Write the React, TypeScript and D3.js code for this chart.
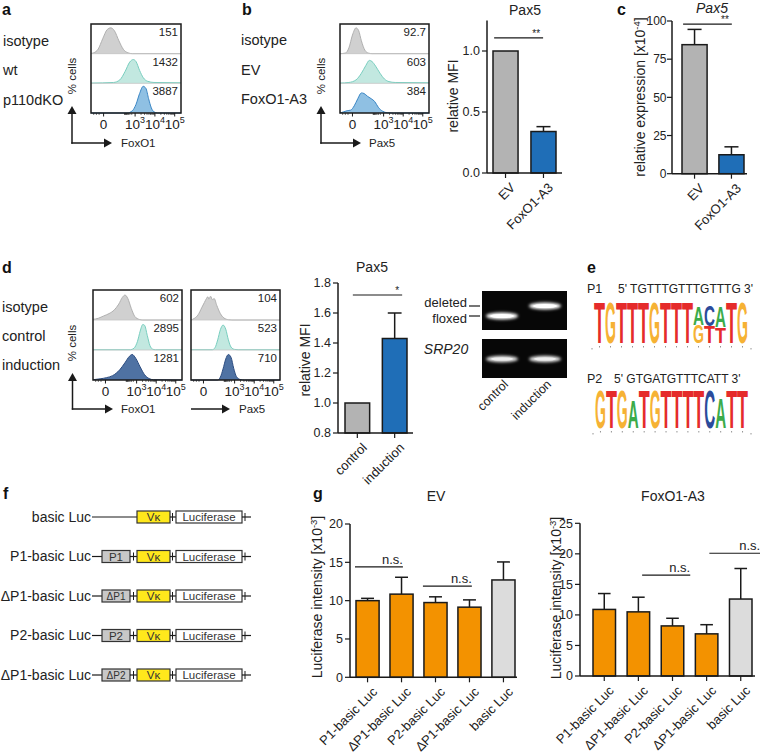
import React from "react";
import * as d3 from "d3";

const FONT = "'Liberation Sans', Arial, Helvetica, sans-serif";

// ---------------- data ----------------
const aRowLabels = ["isotype", "wt", "p110dKO"];
const aMFI = ["151", "1432", "3887"];
const bRowLabels = ["isotype", "EV", "FoxO1-A3"];
const bMFI = ["92.7", "603", "384"];
const dRowLabels = ["isotype", "control", "induction"];
const dFoxO1MFI = ["602", "2895", "1281"];
const dPax5MFI = ["104", "523", "710"];

const flowTickBase = ["0", "10", "10", "10"];
const flowTickExp = ["", "3", "4", "5"];
const flowTickPos = [0.14, 0.49, 0.71, 0.93];

type Curve = [number, number][];
// histogram outlines: [position in box (0-1), height in row (0-1)]
const aIsotypeCurve: Curve = [[0, 0.01], [0.03, 0.03], [0.08, 0.16], [0.13, 0.52], [0.18, 0.84], [0.22, 0.9], [0.26, 0.8], [0.31, 0.45], [0.36, 0.15], [0.41, 0.03], [0.46, 0], [1, 0]];
const aWtCurve: Curve = [[0, 0.01], [0.25, 0.03], [0.32, 0.12], [0.38, 0.42], [0.43, 0.74], [0.47, 0.83], [0.5, 0.76], [0.54, 0.45], [0.58, 0.2], [0.63, 0.07], [0.7, 0.03], [1, 0.02]];
const aKOCurve: Curve = [[0, 0], [0.4, 0], [0.46, 0.08], [0.5, 0.3], [0.54, 0.68], [0.58, 0.93], [0.61, 0.86], [0.64, 0.5], [0.67, 0.18], [0.7, 0.04], [0.74, 0], [1, 0]];
const bIsotypeCurve: Curve = [[0, 0], [0.06, 0.02], [0.1, 0.2], [0.14, 0.65], [0.18, 0.9], [0.21, 0.8], [0.24, 0.45], [0.28, 0.12], [0.32, 0.02], [0.36, 0], [1, 0]];
const bEVCurve: Curve = [[0, 0.01], [0.1, 0.03], [0.18, 0.12], [0.24, 0.35], [0.29, 0.62], [0.33, 0.8], [0.36, 0.76], [0.4, 0.6], [0.45, 0.35], [0.5, 0.15], [0.55, 0.06], [0.62, 0.03], [1, 0.02]];
const bFoxCurve: Curve = [[0, 0], [0.04, 0.04], [0.08, 0.08], [0.12, 0.1], [0.16, 0.25], [0.2, 0.5], [0.24, 0.7], [0.27, 0.68], [0.31, 0.58], [0.35, 0.5], [0.39, 0.4], [0.43, 0.2], [0.48, 0.06], [0.53, 0.01], [0.6, 0], [1, 0]];
const dFIsotypeCurve: Curve = [[0, 0.02], [0.06, 0.06], [0.12, 0.14], [0.18, 0.22], [0.24, 0.35], [0.29, 0.55], [0.33, 0.78], [0.36, 0.86], [0.39, 0.75], [0.43, 0.4], [0.47, 0.12], [0.52, 0.02], [0.56, 0], [1, 0]];
const dFControlCurve: Curve = [[0, 0.01], [0.42, 0.01], [0.46, 0.06], [0.5, 0.3], [0.53, 0.65], [0.56, 0.88], [0.58, 0.85], [0.61, 0.5], [0.64, 0.15], [0.67, 0.03], [0.7, 0.01], [1, 0.01]];
const dFInductionCurve: Curve = [[0, 0.01], [0.08, 0.04], [0.15, 0.08], [0.22, 0.15], [0.3, 0.35], [0.36, 0.6], [0.41, 0.82], [0.44, 0.88], [0.48, 0.75], [0.53, 0.45], [0.58, 0.18], [0.63, 0.05], [0.68, 0.01], [1, 0]];
const dPIsotypeCurve: Curve = [[0, 0], [0.04, 0.06], [0.08, 0.18], [0.12, 0.42], [0.15, 0.6], [0.17, 0.72], [0.19, 0.8], [0.2, 0.72], [0.22, 0.82], [0.24, 0.7], [0.26, 0.74], [0.29, 0.5], [0.33, 0.22], [0.37, 0.07], [0.42, 0.01], [0.46, 0], [1, 0]];
const dPControlCurve: Curve = [[0, 0.01], [0.24, 0.01], [0.27, 0.08], [0.3, 0.35], [0.33, 0.7], [0.36, 0.86], [0.39, 0.72], [0.42, 0.35], [0.45, 0.1], [0.49, 0.02], [0.53, 0.01], [1, 0.01]];
const dPInductionCurve: Curve = [[0, 0], [0.3, 0], [0.33, 0.1], [0.36, 0.38], [0.39, 0.72], [0.42, 0.88], [0.45, 0.78], [0.48, 0.4], [0.51, 0.12], [0.55, 0.02], [0.6, 0], [1, 0]];

const bBarCats = ["EV", "FoxO1-A3"];
const bBarVals = [1.0, 0.34];
const bBarErr = [0, 0.04];
const bTicks = [0, 0.5, 1.0];

const cBarCats = ["EV", "FoxO1-A3"];
const cBarVals = [84.5, 12.4];
const cBarErr = [10, 5.2];
const cTicks = [0, 25, 50, 75, 100];

const dBarCats = ["control", "induction"];
const dBarVals = [1.0, 1.43];
const dBarErr = [0, 0.17];
const dTicks = [0.8, 1.0, 1.2, 1.4, 1.6, 1.8];

const gelLanes = ["control", "induction"];
const gelBandTypes = ["floxed", "deleted"];
const gelBandLevels = ["deleted", "floxed"];

const motifP1Seq = "5' TGTTTGTTTGTTTG 3'";
const motifP2Seq = "5' GTGATGTTTCATT 3'";
type LogoCol = [string, number][];
const logoP1: LogoCol[] = [
  [["T", 1]], [["G", 1]], [["T", 1]], [["T", 1]], [["T", 1]], [["G", 1]], [["T", 1]], [["T", 1]], [["T", 1]],
  [["A", 0.46], ["G", 0.44]], [["C", 0.5], ["T", 0.42]], [["A", 0.52], ["T", 0.4]], [["T", 1]], [["G", 1]],
];
const logoP2: LogoCol[] = [
  [["G", 1]], [["T", 1]], [["G", 1]], [["A", 0.72]], [["T", 1]], [["G", 1]], [["T", 1]], [["T", 1]], [["T", 1]], [["T", 1]],
  [["C", 1]], [["A", 0.8]], [["T", 1]], [["T", 1]],
];

const constructNames = ["basic Luc", "P1-basic Luc", "\u0394P1-basic Luc", "P2-basic Luc", "\u0394P1-basic Luc"];
const constructPromoters = ["", "P1", "\u0394P1", "P2", "\u0394P2"];

const gCats = ["P1-basic Luc", "\u0394P1-basic Luc", "P2-basic Luc", "\u0394P1-basic Luc", "basic Luc"];
const gEVVals = [10.0, 10.85, 9.75, 9.15, 12.7];
const gEVErr = [0.3, 2.2, 0.75, 0.95, 2.35];
const gFoxVals = [10.9, 10.5, 8.2, 6.9, 12.6];
const gFoxErr = [2.6, 2.4, 1.25, 1.5, 5.0];
const gEVTicks = [0, 5, 10, 15, 20];
const gFoxTicks = [0, 5, 10, 15, 20, 25];

// ---------------- colours ----------------
const C = {
  grayFill: "#d0d0d0", grayStroke: "#b0b0b0",
  tealFill: "#c2e8e0", tealStroke: "#78cebf",
  blueFill: "#8fc0e3", blueStroke: "#3a86c5",
  navyFill: "#4f72a3", navyStroke: "#2c4c80",
  barGray: "#b3b3b3", barBlue: "#1f6eb7", barOrange: "#f39200", barLight: "#dcdcdc",
  ink: "#1a1a1a", text: "#222",
};
const LOGO_COLORS: Record<string, string> = { T: "#e52b2b", G: "#f6b234", A: "#3bab4a", C: "#2b4b9b" };

// ---------------- components ----------------
interface FlowRow { curve: Curve; mfi: string; fill: string; stroke: string }

function FlowBox({ x, y, w, h, rows }: { x: number; y: number; w: number; h: number; rows: FlowRow[] }) {
  const sx = d3.scaleLinear().domain([0, 1]).range([x, x + w]);
  const rh = h / rows.length;
  const minors: number[] = [];
  for (let i = 1; i < flowTickPos.length - 1; i++) {
    const a = flowTickPos[i], b = flowTickPos[i + 1];
    for (let k = 2; k <= 9; k++) minors.push(a + (b - a) * Math.log10(k));
  }
  const a0 = flowTickPos[1];
  for (let k = 2; k <= 9; k++) minors.push(a0 - (a0 - flowTickPos[0]) * 0.35 * Math.log10(k));
  [0.03, 0.06, 0.09].forEach((v) => minors.push(v));
  return (
    <g>
      {rows.map((r, i) => {
        const base = y + (i + 1) * rh;
        const sy = d3.scaleLinear().domain([0, 1]).range([base, base - rh + 1]);
        const area = d3.area<[number, number]>().x((d) => sx(d[0])).y0(base).y1((d) => sy(d[1])).curve(d3.curveMonotoneX);
        const line = d3.line<[number, number]>().x((d) => sx(d[0])).y((d) => sy(d[1])).curve(d3.curveMonotoneX);
        return (
          <g key={i}>
            <path d={area(r.curve) || ""} fill={r.fill} />
            <path d={line(r.curve) || ""} fill="none" stroke={r.stroke} strokeWidth={1} />
            {i < rows.length - 1 && <line x1={x} x2={x + w} y1={base} y2={base} stroke="#c4c4c4" strokeWidth={0.8} />}
            <text x={x + w - 3} y={y + i * rh + 12} textAnchor="end" fontSize={11.5} fill={C.text}>{r.mfi}</text>
          </g>
        );
      })}
      <rect x={x} y={y} width={w} height={h} fill="none" stroke={C.ink} strokeWidth={1.5} />
      {minors.map((m, i) => (
        <line key={"m" + i} x1={sx(m)} x2={sx(m)} y1={y + h} y2={y + h + 2} stroke={C.ink} strokeWidth={0.6} />
      ))}
      {flowTickPos.map((p, i) => (
        <g key={"t" + i}>
          <line x1={sx(p)} x2={sx(p)} y1={y + h} y2={y + h + 3.5} stroke={C.ink} strokeWidth={1} />
          <text x={sx(p)} y={y + h + 16} textAnchor="middle" fontSize={13.5} fill={C.text}>
            {flowTickBase[i]}
            {flowTickExp[i] && <tspan dy={-6} fontSize={9}>{flowTickExp[i]}</tspan>}
          </text>
        </g>
      ))}
    </g>
  );
}

function Arrow({ x1, y1, x2, y2 }: { x1: number; y1: number; x2: number; y2: number }) {
  const dx = x2 - x1, dy = y2 - y1;
  const L = Math.hypot(dx, dy);
  const ux = dx / L, uy = dy / L;
  const hl = 8, hw = 4.5;
  const bx = x2 - ux * hl, by = y2 - uy * hl;
  const pts = [[x2, y2], [bx - uy * hw, by + ux * hw], [bx + uy * hw, by - ux * hw]];
  return (
    <g>
      <line x1={x1} y1={y1} x2={bx} y2={by} stroke={C.ink} strokeWidth={1.5} />
      <polygon points={pts.map((p) => p.join(",")).join(" ")} fill={C.ink} />
    </g>
  );
}

function RowLabels({ x, ys, labels }: { x: number; ys: number[]; labels: string[] }) {
  return (
    <g>
      {labels.map((l, i) => (
        <text key={i} x={x} y={ys[i]} fontSize={14.5} fill={C.text}>{l}</text>
      ))}
    </g>
  );
}

function PctCells({ x, y }: { x: number; y: number }) {
  return <text transform={`translate(${x},${y}) rotate(-90)`} textAnchor="middle" fontSize={11.5} fill={C.text}>% cells</text>;
}

interface SigSpec { from: number; to: number; level: number; text: string }
interface BarChartProps {
  axisX: number; axisEnd: number; y0: number; y1: number; domain: [number, number];
  ticks: number[]; fmt: (v: number) => string; barStart: number; barEnd: number; padInner: number;
  values: number[]; errs: number[]; fills: string[]; cats: string[]; sigs: SigSpec[];
  labelSize?: number; tickGap?: number; tickSize?: number;
}

function BarChart(p: BarChartProps) {
  const ys = d3.scaleLinear().domain(p.domain).range([p.y0, p.y1]);
  const idx = d3.range(p.values.length);
  const xs = d3.scaleBand<number>().domain(idx).range([p.barStart, p.barEnd]).paddingInner(p.padInner);
  const bw = xs.bandwidth();
  const step = xs.step();
  const fx = (f: number) => p.barStart + f * step;
  const base = ys(p.domain[0]);
  const ls = p.labelSize || 13;
  const gap = p.tickGap ?? 7;
  const ts = p.tickSize ?? 12.5;
  return (
    <g>
      {idx.map((i) => {
        const x = xs(i) as number;
        const top = ys(p.values[i]);
        const cx = x + bw / 2;
        return (
          <g key={i}>
            {p.errs[i] > 0 && (
              <g stroke={C.ink} strokeWidth={1.5}>
                <line x1={cx} x2={cx} y1={top} y2={ys(p.values[i] + p.errs[i])} />
                <line x1={cx - bw * 0.28} x2={cx + bw * 0.28} y1={ys(p.values[i] + p.errs[i])} y2={ys(p.values[i] + p.errs[i])} />
              </g>
            )}
            <rect x={x} y={top} width={bw} height={base - top} fill={p.fills[i]} stroke={C.ink} strokeWidth={1.5} />
            <line x1={cx} x2={cx} y1={base} y2={base + 5} stroke={C.ink} strokeWidth={1.2} />
            <text transform={`translate(${cx + 4},${base + 9}) rotate(-45)`} textAnchor="end" dy="0.7em" fontSize={ls} fill={C.text}>{p.cats[i]}</text>
          </g>
        );
      })}
      <line x1={p.axisX} x2={p.axisX} y1={base} y2={p.y1} stroke={C.ink} strokeWidth={1.5} />
      <line x1={p.axisX} x2={p.axisEnd} y1={base} y2={base} stroke={C.ink} strokeWidth={1.5} />
      {p.ticks.map((t, i) => (
        <g key={"t" + i}>
          <line x1={p.axisX - 5} x2={p.axisX} y1={ys(t)} y2={ys(t)} stroke={C.ink} strokeWidth={1.2} />
          <text x={p.axisX - gap} y={ys(t)} dy="0.35em" textAnchor="end" fontSize={ts} fill={C.text}>{p.fmt(t)}</text>
        </g>
      ))}
      {p.sigs.map((s, i) => {
        const yy = ys(s.level);
        const isStar = s.text.startsWith("*");
        return (
          <g key={"s" + i}>
            <line x1={fx(s.from)} x2={fx(s.to)} y1={yy} y2={yy} stroke={C.ink} strokeWidth={1.2} />
            <text x={fx(s.to) - (isStar ? 3 : 0)} y={yy - (isStar ? 1 : 3)} textAnchor="end" fontSize={isStar ? 10 : 13} fill={C.text}>{s.text}</text>
          </g>
        );
      })}
    </g>
  );
}

function Logo({ x, y, w, h, cols }: { x: number; y: number; w: number; h: number; cols: LogoCol[] }) {
  const xs = d3.scaleBand<number>().domain(d3.range(cols.length)).range([x, x + w]);
  const hs = d3.scaleLinear().domain([0, 1]).range([0, h]);
  const bw = xs.bandwidth();
  const CAP = 7.16;
  return (
    <g>
      {cols.map((col, i) => {
        let yb = y + h;
        const items = [...col].reverse();
        return (
          <g key={i}>
            {items.map(([L, f], j) => {
              const lh = hs(f);
              const el = (
                <text key={j} transform={`translate(${xs(i)},${yb}) scale(1,${lh / CAP})`} fontSize={10} fontWeight="bold"
                  textLength={bw} lengthAdjust="spacingAndGlyphs" fill={LOGO_COLORS[L]}>{L}</text>
              );
              yb -= lh;
              return el;
            })}
            <line x1={(xs(i) as number) + bw / 2} x2={(xs(i) as number) + bw / 2} y1={y + h + 3} y2={y + h + 4.5} stroke="#777" strokeWidth={0.8} />
          </g>
        );
      })}
      <line x1={x - 2} x2={x - 2} y1={y + h + 5} y2={y + h + 6.5} stroke="#777" strokeWidth={0.8} />
      <line x1={x + w + 3} x2={x + w + 3} y1={y + h + 5} y2={y + h + 6.5} stroke="#777" strokeWidth={0.8} />
    </g>
  );
}

function Construct({ y, name, promoter }: { y: number; name: string; promoter: string }) {
  const bh = 12;
  const t = y - bh / 2;
  return (
    <g>
      <text x={91} y={y} dy="0.35em" textAnchor="end" fontSize={14} fill={C.text}>{name}</text>
      {promoter ? (
        <g>
          <line x1={92} x2={102} y1={y} y2={y} stroke={C.ink} strokeWidth={1.2} />
          <rect x={102} y={t} width={28} height={bh} fill="#c8c8c8" stroke="#333" strokeWidth={1.2} />
          <text x={116} y={y} dy="0.36em" textAnchor="middle" fontSize={promoter.length > 2 ? 10 : 11.5} fill="#333">{promoter}</text>
          <line x1={130} x2={137} y1={y} y2={y} stroke={C.ink} strokeWidth={1.2} />
          <line x1={133.5} x2={133.5} y1={y - 4} y2={y + 4} stroke={C.ink} strokeWidth={1} />
        </g>
      ) : (
        <line x1={92} x2={137} y1={y} y2={y} stroke={C.ink} strokeWidth={1.2} />
      )}
      <rect x={137} y={t} width={33} height={bh} fill="#ffe81c" stroke="#333" strokeWidth={1.2} />
      <text x={153.5} y={y} dy="0.36em" textAnchor="middle" fontSize={11.5} fill="#333">V{"\u03BA"}</text>
      <line x1={170} x2={176} y1={y} y2={y} stroke={C.ink} strokeWidth={1.2} />
      <line x1={172.5} x2={172.5} y1={y - 4} y2={y + 4} stroke={C.ink} strokeWidth={1} />
      <rect x={176} y={t} width={66} height={bh} fill="#fff" stroke="#333" strokeWidth={1.2} />
      <text x={209} y={y} dy="0.36em" textAnchor="middle" fontSize={11.5} fill="#333">Luciferase</text>
      <line x1={242} x2={251} y1={y} y2={y} stroke={C.ink} strokeWidth={1.2} />
      <line x1={245} x2={245} y1={y - 4} y2={y + 4} stroke={C.ink} strokeWidth={1} />
    </g>
  );
}

function PanelLabel({ x, y, t }: { x: number; y: number; t: string }) {
  return <text x={x} y={y} fontSize={16} fontWeight="bold" fill="#111">{t}</text>;
}

export default function App() {
  const fmt1 = (v: number) => v.toFixed(1);
  const fmt0 = (v: number) => String(v);

  // gel
  const laneX = d3.scalePoint<string>().domain(gelLanes).range([502, 545]);
  const bandY = d3.scalePoint<string>().domain(gelBandLevels).range([306, 316]);
  const bandLabelY = d3.scalePoint<string>().domain(gelBandLevels).range([302.5, 318]);
  const rowsF = d3.scalePoint<string>().domain(d3.range(constructNames.length).map(String)).range([517, 675]);

  return (
    <div style={{ position: "absolute", left: 0, top: 0 }}>
      <svg width={760} height={756} fontFamily={FONT} style={{ display: "block", background: "#fff" }}>
        <defs>
          <filter id="glow" x="-50%" y="-200%" width="200%" height="500%">
            <feGaussianBlur stdDeviation="1.5" />
          </filter>
        </defs>

        {/* ---------- panel a ---------- */}
        <PanelLabel x={2} y={15} t="a" />
        <RowLabels x={3} ys={[46, 75, 105]} labels={aRowLabels} />
        <PctCells x={76} y={76} />
        <FlowBox x={91} y={24} w={90} h={89} rows={[
          { curve: aIsotypeCurve, mfi: aMFI[0], fill: C.grayFill, stroke: C.grayStroke },
          { curve: aWtCurve, mfi: aMFI[1], fill: C.tealFill, stroke: C.tealStroke },
          { curve: aKOCurve, mfi: aMFI[2], fill: C.blueFill, stroke: C.blueStroke },
        ]} />
        <Arrow x1={72} y1={143.7} x2={72} y2={106} />
        <Arrow x1={71.3} y1={143} x2={112} y2={143} />
        <text x={121} y={147} fontSize={11.5} fill={C.text}>FoxO1</text>

        {/* ---------- panel b ---------- */}
        <PanelLabel x={242} y={15} t="b" />
        <RowLabels x={241} ys={[45, 75, 104]} labels={bRowLabels} />
        <PctCells x={325} y={76} />
        <FlowBox x={340} y={24} w={89} h={89} rows={[
          { curve: bIsotypeCurve, mfi: bMFI[0], fill: C.grayFill, stroke: C.grayStroke },
          { curve: bEVCurve, mfi: bMFI[1], fill: C.tealFill, stroke: C.tealStroke },
          { curve: bFoxCurve, mfi: bMFI[2], fill: C.blueFill, stroke: C.blueStroke },
        ]} />
        <Arrow x1={321} y1={143.7} x2={321} y2={106} />
        <Arrow x1={320.3} y1={143} x2={361} y2={143} />
        <text x={369} y={147} fontSize={11.5} fill={C.text}>Pax5</text>

        <text x={525} y={15} textAnchor="middle" fontSize={14} fill={C.text}>Pax5</text>
        <text transform="translate(458,96) rotate(-90)" textAnchor="middle" fontSize={14} fill={C.text}>relative MFI</text>
        <BarChart axisX={487} axisEnd={562} y0={173} y1={20.5} domain={[0, 1.25]} ticks={bTicks} fmt={fmt1}
          barStart={493} barEnd={556} padInner={0.34} values={bBarVals} errs={bBarErr}
          fills={[C.barGray, C.barBlue]} cats={bBarCats}
          sigs={[{ from: 0.03, to: 1.32, level: 1.107, text: "**" }]} />

        {/* ---------- panel c ---------- */}
        <PanelLabel x={617} y={15} t="c" />
        <text x={712} y={13} textAnchor="middle" fontSize={14} fontStyle="italic" fill={C.text}>Pax5</text>
        <text transform="translate(645,97) rotate(-90)" textAnchor="middle" fontSize={14} fill={C.text}>
          relative expression [x10<tspan dy={-5} fontSize={9.5}>-4</tspan><tspan dy={5}>]</tspan>
        </text>
        <BarChart axisX={672} axisEnd={747} y0={173.7} y1={21} domain={[0, 100]} ticks={cTicks} fmt={fmt0}
          barStart={682} barEnd={744} padInner={0.32} values={cBarVals} errs={cBarErr}
          fills={[C.barGray, C.barBlue]} cats={cBarCats} tickGap={5.5} tickSize={12}
          sigs={[{ from: 0.03, to: 1.35, level: 98, text: "**" }]} />

        {/* ---------- panel d ---------- */}
        <PanelLabel x={2} y={273} t="d" />
        <RowLabels x={2} ys={[312, 341, 370]} labels={dRowLabels} />
        <PctCells x={76} y={343} />
        <FlowBox x={93} y={290} w={89} h={90} rows={[
          { curve: dFIsotypeCurve, mfi: dFoxO1MFI[0], fill: C.grayFill, stroke: C.grayStroke },
          { curve: dFControlCurve, mfi: dFoxO1MFI[1], fill: C.tealFill, stroke: C.tealStroke },
          { curve: dFInductionCurve, mfi: dFoxO1MFI[2], fill: C.navyFill, stroke: C.navyStroke },
        ]} />
        <FlowBox x={191} y={290} w={89} h={90} rows={[
          { curve: dPIsotypeCurve, mfi: dPax5MFI[0], fill: C.grayFill, stroke: C.grayStroke },
          { curve: dPControlCurve, mfi: dPax5MFI[1], fill: C.tealFill, stroke: C.tealStroke },
          { curve: dPInductionCurve, mfi: dPax5MFI[2], fill: C.navyFill, stroke: C.navyStroke },
        ]} />
        <Arrow x1={72.5} y1={409.7} x2={72.5} y2={373} />
        <Arrow x1={71.8} y1={409} x2={113} y2={409} />
        <text x={121} y={413} fontSize={11.5} fill={C.text}>FoxO1</text>
        <Arrow x1={191} y1={409} x2={230} y2={409} />
        <text x={239} y={413} fontSize={11.5} fill={C.text}>Pax5</text>

        <text x={372} y={272} textAnchor="middle" fontSize={14} fill={C.text}>Pax5</text>
        <text transform="translate(310,360) rotate(-90)" textAnchor="middle" fontSize={14} fill={C.text}>relative MFI</text>
        <BarChart axisX={338} axisEnd={413} y0={433} y1={283} domain={[0.8, 1.8]} ticks={dTicks} fmt={fmt1}
          barStart={345} barEnd={407} padInner={0.34} values={dBarVals} errs={dBarErr}
          fills={[C.barGray, C.barBlue]} cats={dBarCats}
          sigs={[{ from: 0.21, to: 1.53, level: 1.72, text: "*" }]} />

        {/* gel */}
        <rect x={482} y={291} width={85} height={39} fill="#070707" />
        <rect x={482} y={339} width={85} height={39} fill="#070707" />
        {gelLanes.map((l, i) => (
          <g key={l}>
            <ellipse cx={laneX(l)} cy={bandY(gelBandTypes[i])} rx={16} ry={3.4} fill="#fff" filter="url(#glow)" />
            <ellipse cx={laneX(l)} cy={bandY(gelBandTypes[i])} rx={12} ry={2} fill="#fff" />
            <ellipse cx={laneX(l)} cy={359} rx={16} ry={3.2} fill="#e8e8e8" filter="url(#glow)" />
            <ellipse cx={laneX(l)} cy={359} rx={11} ry={1.6} fill="#eee" />
            <text transform={`translate(${(laneX(l) as number) + 7},${385}) rotate(-45)`} textAnchor="end" fontSize={12.5} fill={C.text}>{l}</text>
          </g>
        ))}
        {gelBandLevels.map((b) => (
          <g key={b}>
            <text x={467} y={bandLabelY(b)} dy="0.35em" textAnchor="end" fontSize={13} fill={C.text}>{b}</text>
            <line x1={469} x2={480} y1={bandY(b)} y2={bandY(b)} stroke={C.ink} strokeWidth={1.2} />
          </g>
        ))}
        <text x={446} y={354} textAnchor="middle" fontSize={14} fontStyle="italic" fill={C.text}>SRP20</text>

        {/* ---------- panel e ---------- */}
        <PanelLabel x={587} y={273} t="e" />
        <text x={587} y={293} fontSize={12.5} fill={C.text}>P1</text>
        <text x={618} y={293} fontSize={12} fill={C.text}>{motifP1Seq}</text>
        <Logo x={594} y={302} w={154} h={41} cols={logoP1} />
        <text x={587} y={383} fontSize={12.5} fill={C.text}>P2</text>
        <text x={614} y={383} fontSize={12} fill={C.text}>{motifP2Seq}</text>
        <Logo x={595} y={390} w={153} h={38} cols={logoP2} />

        {/* ---------- panel f ---------- */}
        <PanelLabel x={3} y={499} t="f" />
        {constructNames.map((n, i) => (
          <Construct key={i} y={rowsF(String(i)) as number} name={n} promoter={constructPromoters[i]} />
        ))}

        {/* ---------- panel g ---------- */}
        <PanelLabel x={313} y={499} t="g" />
        <text x={436} y={501} textAnchor="middle" fontSize={14} fill={C.text}>EV</text>
        <text transform="translate(322,597) rotate(-90)" textAnchor="middle" fontSize={14} fill={C.text}>
          Luciferase intensity [x10<tspan dy={-5} fontSize={9.5}>-3</tspan><tspan dy={5}>]</tspan>
        </text>
        <BarChart axisX={350} axisEnd={517} y0={677.3} y1={524} domain={[0, 20]} ticks={gEVTicks} fmt={fmt0}
          barStart={356} barEnd={515} padInner={0.32} values={gEVVals} errs={gEVErr}
          fills={[C.barOrange, C.barOrange, C.barOrange, C.barOrange, C.barLight]} cats={gCats}
          sigs={[{ from: -0.03, to: 1.38, level: 14.4, text: "n.s." }, { from: 1.97, to: 3.41, level: 11.9, text: "n.s." }]} />

        <text x={673} y={501} textAnchor="middle" fontSize={14} fill={C.text}>FoxO1-A3</text>
        <text transform="translate(561,598) rotate(-90)" textAnchor="middle" fontSize={14} fill={C.text}>
          Luciferase intensity [x10<tspan dy={-5} fontSize={9.5}>-3</tspan><tspan dy={5}>]</tspan>
        </text>
        <BarChart axisX={580} axisEnd={755} y0={676} y1={523.3} domain={[0, 25]} ticks={gFoxTicks} fmt={fmt0}
          barStart={593} barEnd={752} padInner={0.34} values={gFoxVals} errs={gFoxErr}
          fills={[C.barOrange, C.barOrange, C.barOrange, C.barOrange, C.barLight]} cats={gCats}
          sigs={[{ from: 1.44, to: 2.85, level: 16.5, text: "n.s." }, { from: 3.41, to: 4.9, level: 20.1, text: "n.s." }]} />
      </svg>
    </div>
  );
}
